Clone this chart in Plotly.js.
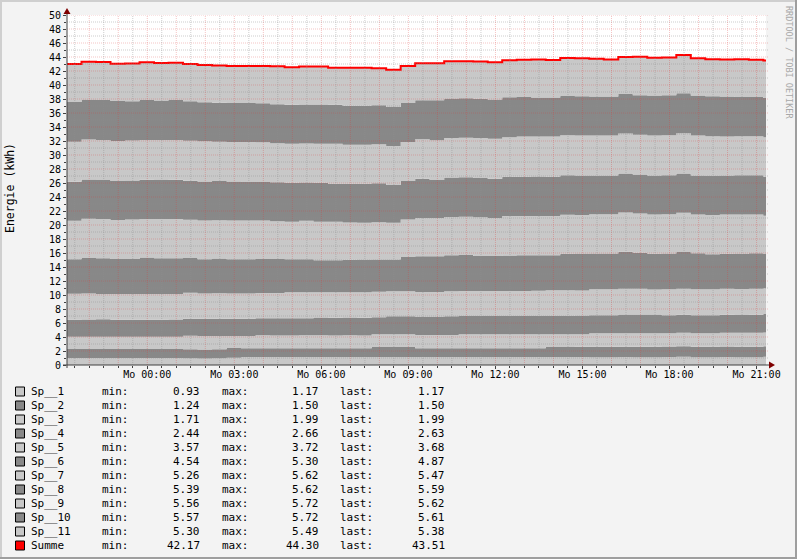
<!DOCTYPE html>
<html><head><meta charset="utf-8">
<script src="https://cdn.plot.ly/plotly-3.0.1.min.js"></script>
<style>html,body{margin:0;padding:0;background:#f3f3f3;}#chart{width:797px;height:559px;}</style>
</head><body><div id="chart"></div>
<script>
// ---- data (half-hour samples from Sun 21:14 to Mon 21:14) ----
const seriesNames = ['Sp__1','Sp__2','Sp__3','Sp__4','Sp__5','Sp__6','Sp__7','Sp__8','Sp__9','Sp__10','Sp__11'];
const Sp1 = [1.00,1.00,1.00,1.00,0.99,1.00,1.00,1.00,0.98,0.93,0.95,1.05,
  1.14,1.14,1.14,1.14,1.14,1.15,1.14,1.14,1.14,1.15,1.14,1.14,
  1.15,1.14,1.15,1.15,1.14,1.15,1.15,1.15,1.15,1.15,1.15,1.15,
  1.12,1.12,1.13,1.12,1.12,1.13,1.17,1.12,1.12,1.13,1.12,1.12,1.17];
const Sp2 = [1.28,1.28,1.28,1.28,1.28,1.28,1.28,1.28,1.28,1.30,1.29,1.38,
  1.24,1.25,1.24,1.24,1.25,1.24,1.24,1.25,1.24,1.43,1.43,1.43,
  1.24,1.25,1.24,1.24,1.25,1.24,1.24,1.25,1.26,1.43,1.43,1.44,
  1.48,1.48,1.47,1.48,1.48,1.50,1.50,1.50,1.50,1.50,1.50,1.50,1.50];
const Sp3 = [1.76,1.76,1.76,1.76,1.76,1.76,1.76,1.76,1.91,1.91,1.91,1.71,
  1.76,1.85,1.85,1.85,1.85,1.85,1.85,1.85,1.85,1.81,1.81,1.81,
  1.90,1.90,1.90,1.99,1.99,1.99,1.99,1.99,1.99,1.81,1.81,1.81,
  1.95,1.95,1.95,1.95,1.95,1.91,1.93,1.91,1.91,1.99,1.99,1.99,1.99];
const Sp4 = [2.44,2.45,2.50,2.44,2.45,2.44,2.44,2.45,2.44,2.47,2.47,2.47,
  2.47,2.44,2.45,2.44,2.44,2.53,2.53,2.53,2.53,2.44,2.57,2.57,
  2.57,2.57,2.66,2.61,2.61,2.61,2.61,2.61,2.61,2.61,2.61,2.66,
  2.57,2.57,2.66,2.66,2.66,2.57,2.57,2.57,2.57,2.55,2.55,2.56,2.63];
const Sp5 = [3.71,3.71,3.60,3.67,3.67,3.67,3.67,3.67,3.72,3.62,3.62,3.62,
  3.62,3.62,3.62,3.72,3.72,3.62,3.62,3.62,3.62,3.62,3.57,3.57,
  3.57,3.57,3.58,3.58,3.58,3.58,3.58,3.58,3.58,3.67,3.67,3.57,
  3.71,3.71,3.67,3.67,3.57,3.71,3.72,3.72,3.72,3.71,3.71,3.71,3.68];
const Sp6 = [4.90,5.10,5.10,5.00,5.00,5.19,5.10,5.10,4.96,4.86,4.96,4.86,
  4.86,4.86,4.86,4.71,4.71,4.57,4.57,4.66,4.61,4.61,4.54,4.90,
  5.10,5.10,5.14,5.14,5.00,5.00,5.09,5.09,5.09,5.00,5.24,5.24,
  5.10,5.10,5.30,5.14,5.10,5.10,5.24,5.14,5.00,5.00,5.00,5.10,4.87];
const Sp7 = [5.53,5.61,5.61,5.57,5.62,5.51,5.62,5.61,5.47,5.57,5.47,5.57,
  5.57,5.50,5.38,5.38,5.48,5.52,5.52,5.29,5.34,5.34,5.26,5.38,
  5.47,5.47,5.48,5.48,5.52,5.42,5.62,5.62,5.62,5.62,5.57,5.57,
  5.62,5.62,5.62,5.62,5.62,5.62,5.62,5.53,5.62,5.62,5.62,5.52,5.47];
const Sp8 = [5.57,5.58,5.58,5.57,5.58,5.60,5.57,5.58,5.57,5.57,5.62,5.57,
  5.48,5.50,5.57,5.57,5.47,5.57,5.43,5.57,5.57,5.57,5.39,5.48,
  5.62,5.43,5.62,5.62,5.62,5.62,5.62,5.62,5.62,5.62,5.62,5.62,
  5.52,5.52,5.57,5.57,5.57,5.57,5.62,5.57,5.57,5.57,5.62,5.62,5.59];
const Sp9 = [5.72,5.71,5.71,5.72,5.71,5.70,5.71,5.71,5.72,5.72,5.61,5.62,
  5.71,5.67,5.57,5.57,5.57,5.57,5.71,5.57,5.57,5.57,5.57,5.57,
  5.62,5.67,5.67,5.67,5.71,5.71,5.62,5.72,5.72,5.72,5.71,5.71,
  5.72,5.72,5.71,5.67,5.71,5.71,5.72,5.71,5.66,5.57,5.57,5.56,5.62];
const Sp10 = [5.67,5.72,5.71,5.72,5.62,5.72,5.62,5.71,5.62,5.57,5.58,5.57,
  5.57,5.57,5.58,5.57,5.57,5.58,5.57,5.57,5.58,5.57,5.57,5.57,
  5.57,5.71,5.62,5.62,5.62,5.62,5.72,5.67,5.57,5.57,5.62,5.62,
  5.57,5.57,5.62,5.67,5.72,5.72,5.72,5.72,5.72,5.71,5.62,5.62,5.61];
const Sp11 = [5.43,5.39,5.44,5.30,5.38,5.39,5.39,5.30,5.34,5.33,5.30,5.30,
  5.30,5.30,5.43,5.36,5.43,5.43,5.30,5.43,5.43,5.30,5.32,5.30,
  5.30,5.30,5.33,5.30,5.30,5.30,5.30,5.30,5.43,5.38,5.43,5.43,
  5.38,5.30,5.30,5.49,5.38,5.38,5.49,5.33,5.30,5.30,5.39,5.32,5.38];

const legendNames = ['Sp__1','Sp__2','Sp__3','Sp__4','Sp__5','Sp__6','Sp__7','Sp__8','Sp__9','Sp__10','Sp__11','Summe'];
const legMin  = ['0.93','1.24','1.71','2.44','3.57','4.54','5.26','5.39','5.56','5.57','5.30','42.17'];
const legMax  = ['1.17','1.50','1.99','2.66','3.72','5.30','5.62','5.62','5.72','5.72','5.49','44.30'];
const legLast = ['1.17','1.50','1.99','2.63','3.68','4.87','5.47','5.59','5.62','5.61','5.38','43.51'];

const tickTimes  = ['2012-11-19 00:00','2012-11-19 03:00','2012-11-19 06:00','2012-11-19 09:00',
                    '2012-11-19 12:00','2012-11-19 15:00','2012-11-19 18:00','2012-11-19 21:00'];
const tickLabels = ['Mo 00:00','Mo 03:00','Mo 06:00','Mo 09:00','Mo 12:00','Mo 15:00','Mo 18:00','Mo 21:00'];
const yTitle = 'Energie (kWh)';
const watermark = 'RRDTOOL / TOBI OETIKER';

// ---- build ----
const series = [Sp1,Sp2,Sp3,Sp4,Sp5,Sp6,Sp7,Sp8,Sp9,Sp10,Sp11];
const LIGHT = '#c8c8c8', DARK = '#888888', RED = '#ff0000';
const startMs = Date.UTC(2012,10,18,21,14);
const endStr = '2012-11-19 21:19:30';
const fmt = ms => new Date(ms).toISOString().slice(0,19).replace('T',' ');
const xs = Sp1.map((_,k) => fmt(startMs + k*1800000));
xs.push(endStr);
const ext = a => a.concat([a[a.length-1]]);

const traces = series.map((vals,i) => ({
  x: xs, y: ext(vals), type:'scatter', mode:'lines', stackgroup:'one',
  line:{width:0, shape:'hv'}, fillcolor: i%2===0 ? LIGHT : DARK, hoverinfo:'skip', name: seriesNames[i]
}));
const summe = Sp1.map((_,k) => series.reduce((s,a)=>s+a[k],0));
traces.push({x: xs, y: ext(summe), type:'scatter', mode:'lines', line:{width:2, color:RED, shape:'hv'}, name:'Summe', hoverinfo:'skip'});

// pixel -> paper helpers (plot area x 67..766, y 15..365)
const L=67, R=766, T=15, B=365;
const PX = px => (px-L)/(R-L);
const PY = py => (B-py)/(B-T);

const shapes = [];
const GRID = 'rgba(143,143,143,0.45)', MGRID = 'rgba(222,60,60,0.3)';
// horizontal grid
for (let v=1; v<=50; v++) {
  shapes.push({type:'line', xref:'paper', yref:'y', x0:0, x1:1.003, y0:v, y1:v, layer:'above',
    line:{color: v%2===0 ? MGRID : GRID, width:1, dash:'1px,1px'}});
}
// vertical grid every 30 min
const g0 = Date.UTC(2012,10,18,21,30);
for (let k=0; k<48; k++) {
  const ms = g0 + k*1800000;
  const major = new Date(ms).getUTCMinutes()===0;
  shapes.push({type:'line', xref:'x', yref:'paper', x0:fmt(ms), x1:fmt(ms), y0:0, y1:1, layer:'above',
    line:{color: major ? MGRID : GRID, width:1, dash:'1px,1px'}});
}
// axes lines
const AX = '#404040', ARROW = '#7f0000';
shapes.push({type:'line', xref:'paper', yref:'paper', x0:PX(63), x1:PX(770), y0:0, y1:0, layer:'above', line:{color:AX, width:1}});
shapes.push({type:'line', xref:'paper', yref:'paper', x0:0, x1:0, y0:PY(368), y1:PY(12), layer:'above', line:{color:AX, width:1}});
// arrows
shapes.push({type:'path', xref:'paper', yref:'paper', layer:'above',
  path:`M ${PX(63.5)} ${PY(14)} L ${PX(70.5)} ${PY(14)} L ${PX(67)} ${PY(8)} Z`, fillcolor:ARROW, line:{width:0}});
shapes.push({type:'path', xref:'paper', yref:'paper', layer:'above',
  path:`M ${PX(769)} ${PY(361.5)} L ${PX(769)} ${PY(368.5)} L ${PX(775)} ${PY(365)} Z`, fillcolor:ARROW, line:{width:0}});
// border shading
shapes.push({type:'rect', xref:'paper', yref:'paper', x0:PX(0), x1:PX(797), y0:PY(0), y1:PY(2), fillcolor:'#cfcfcf', line:{width:0}, layer:'below'});
shapes.push({type:'rect', xref:'paper', yref:'paper', x0:PX(0), x1:PX(2), y0:PY(0), y1:PY(559), fillcolor:'#cfcfcf', line:{width:0}, layer:'below'});
shapes.push({type:'rect', xref:'paper', yref:'paper', x0:PX(795), x1:PX(797), y0:PY(0), y1:PY(559), fillcolor:'#9e9e9e', line:{width:0}, layer:'below'});
shapes.push({type:'rect', xref:'paper', yref:'paper', x0:PX(0), x1:PX(797), y0:PY(557), y1:PY(559), fillcolor:'#9e9e9e', line:{width:0}, layer:'below'});

const MONO = 'DejaVu Sans Mono';
const annotations = [];
const lf = {family:MONO, size:11, color:'#000'};
legendNames.forEach((nm,i) => {
  const cy = 391.5 + 14*i;
  const col = i===11 ? RED : (i%2===0 ? LIGHT : DARK);
  shapes.push({type:'rect', xref:'paper', yref:'paper', x0:PX(15.5), x1:PX(24.5), y0:PY(cy+4.5), y1:PY(cy-4.5),
    fillcolor:col, line:{color:'#000', width:1}});
  const add = (txt, px, anchor) => annotations.push({xref:'paper', yref:'paper', x:PX(px), y:PY(cy), text:txt,
    xanchor:anchor, yanchor:'middle', showarrow:false, font:lf, borderpad:0});
  add(nm, 30, 'left');
  add('min:', 101, 'left');
  add(legMin[i], 201, 'right');
  add('max:', 221, 'left');
  add(legMax[i], 320, 'right');
  add('last:', 339, 'left');
  add(legLast[i], 446, 'right');
});
annotations.push({xref:'paper', yref:'paper', x:PX(10), y:PY(188), text:yTitle, textangle:-90, showarrow:false,
  xanchor:'center', yanchor:'middle', font:{family:MONO, size:11.5, color:'#000'}});
annotations.push({xref:'paper', yref:'paper', x:PX(789), y:PY(62), text:watermark, textangle:90, showarrow:false,
  xanchor:'center', yanchor:'middle', font:{family:MONO, size:8.5, color:'#a8a8a8'}});

const layout = {
  width:797, height:559, margin:{l:L, r:797-R, t:T, b:559-B, pad:0},
  paper_bgcolor:'#f3f3f3', plot_bgcolor:'#ffffff', showlegend:false,
  xaxis:{type:'date', range:[fmt(startMs), endStr], tickmode:'array', tickvals:tickTimes, ticktext:tickLabels,
    ticks:'outside', ticklen:3, tickcolor:AX, showgrid:false, zeroline:false, showline:false, ticklabelstandoff:-3,
    tickfont:{family:MONO, size:10, color:'#000'},
    minor:{tickmode:'linear', tick0:'2012-11-18 21:30', dtick:1800000, ticks:'outside', ticklen:2, tickcolor:AX, showgrid:false}},
  yaxis:{range:[0,50], tickmode:'linear', tick0:0, dtick:2, ticks:'outside', ticklen:3, tickcolor:AX,
    showgrid:false, zeroline:false, showline:false, tickfont:{family:MONO, size:10, color:'#000'},
    minor:{dtick:1, ticks:'outside', ticklen:2, tickcolor:AX, showgrid:false}},
  shapes: shapes, annotations: annotations
};
Plotly.newPlot('chart', traces, layout, {staticPlot:true, displayModeBar:false});
</script></body></html>
